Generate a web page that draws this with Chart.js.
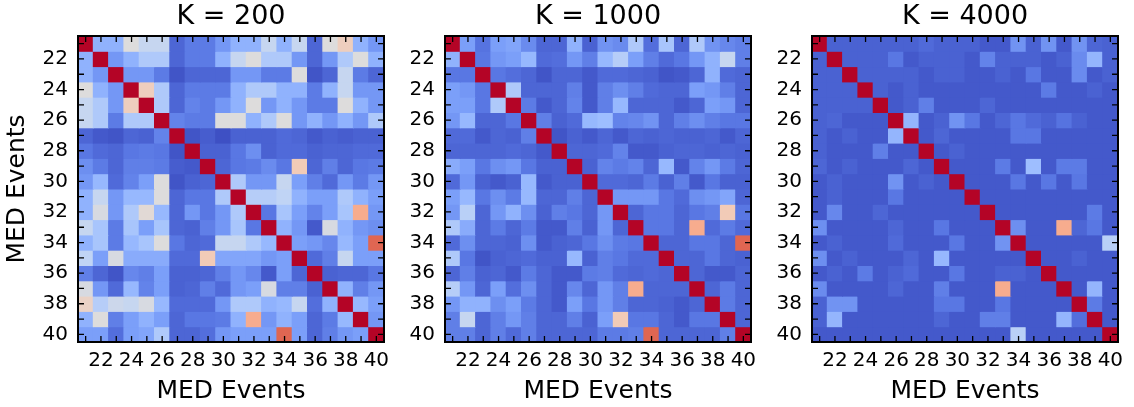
<!DOCTYPE html>
<html>
<head>
<meta charset="utf-8">
<script src="https://cdn.jsdelivr.net/npm/chart.js@4.4.1/dist/chart.umd.min.js"></script>
<style>
  html, body { margin: 0; padding: 0; background: #fff; overflow: hidden; }
  #wrap { position: relative; width: 1134px; height: 407px; }
  canvas { position: absolute; top: 0; }
</style>
</head>
<body>
<div id="wrap">
  <canvas id="c0" width="462" height="407" style="left:0px"></canvas>
  <canvas id="c1" width="462" height="407" style="left:367px"></canvas>
  <canvas id="c2" width="462" height="407" style="left:734px"></canvas>
</div>
<script>
// MED event ids on both axes
const events = [21,22,23,24,25,26,27,28,29,30,31,32,33,34,35,36,37,38,39,40];
const panelTitles = ['K = 200', 'K = 1000', 'K = 4000'];
const axisTitle = 'MED Events';

// similarity values, rows = y event, cols = x event
const corrK200 = [
  [1,.26,.26,.5,.42,.42,.06,.11,.11,.18,.26,.26,.42,.26,.42,.06,.5,.58,.26,.18],
  [.26,1,.18,.26,.35,.35,.06,.11,.11,.26,.42,.5,.35,.35,.18,.06,.18,.35,.5,.26],
  [.26,.18,1,.18,.18,.11,.02,.06,.06,.06,.18,.18,.11,.11,.5,.02,.06,.42,.11,.06],
  [.5,.26,.18,1,.58,.35,.06,.11,.11,.11,.26,.35,.35,.26,.26,.11,.26,.42,.18,.18],
  [.42,.35,.18,.58,1,.35,.06,.13,.11,.18,.26,.5,.18,.26,.18,.11,.11,.5,.26,.18],
  [.42,.35,.11,.35,.35,1,.13,.11,.11,.5,.5,.26,.35,.5,.18,.26,.18,.26,.18,.35],
  [.06,.03,.02,.06,.05,.13,1,.02,.04,.01,.05,.05,.05,.07,.06,.03,.05,.04,.05,.05],
  [.1,.07,.06,.1,.11,.1,.02,1,.05,.05,.1,.16,.05,.07,.07,.05,.06,.06,.07,.07],
  [.16,.11,.06,.12,.12,.11,.04,.03,1,.06,.1,.11,.15,.1,.6,.06,.12,.06,.1,.11],
  [.18,.28,.07,.13,.2,.5,.02,.05,.06,1,.35,.18,.18,.42,.2,.12,.07,.18,.11,.18],
  [.26,.42,.18,.28,.28,.5,.06,.1,.1,.35,1,.37,.37,.4,.26,.2,.2,.35,.26,.2],
  [.26,.48,.18,.35,.52,.28,.06,.18,.1,.18,.35,1,.1,.33,.2,.13,.2,.33,.7,.18],
  [.42,.33,.11,.33,.2,.33,.06,.05,.12,.18,.33,.1,1,.26,.18,.03,.48,.26,.18,.16],
  [.26,.33,.11,.28,.33,.5,.1,.06,.07,.42,.42,.35,.28,1,.2,.18,.14,.28,.2,.86],
  [.4,.2,.48,.24,.24,.24,.07,.07,.6,.22,.22,.22,.18,.2,1,.07,.12,.42,.2,.2],
  [.12,.06,.02,.14,.12,.2,.05,.05,.06,.12,.18,.14,.03,.2,.06,1,.05,.06,.06,.1],
  [.48,.18,.07,.28,.13,.2,.05,.06,.12,.07,.18,.2,.48,.12,.12,.05,1,.26,.12,.18],
  [.56,.37,.44,.42,.48,.28,.07,.07,.07,.18,.35,.35,.26,.28,.42,.08,.26,1,.28,.2],
  [.26,.5,.12,.2,.26,.2,.06,.1,.1,.11,.26,.7,.18,.26,.2,.06,.11,.28,1,.18],
  [.2,.2,.08,.2,.22,.35,.06,.06,.08,.18,.2,.2,.2,.86,.2,.06,.12,.18,.2,1]
];

const corrK1000 = [
  [1,.2,.09,.2,.22,.15,.06,.06,.26,.05,.17,.15,.35,.08,.33,.06,.35,.17,.14,.12],
  [.26,1,.1,.18,.2,.28,.07,.08,.18,.12,.28,.37,.2,.12,.07,.1,.18,.26,.42,.12],
  [.1,.1,1,.1,.08,.06,.02,.06,.06,.03,.07,.07,.06,.05,.02,.03,.06,.26,.07,.06],
  [.2,.18,.1,1,.35,.06,.06,.06,.12,.03,.12,.16,.12,.07,.06,.06,.2,.18,.12,.06],
  [.2,.2,.1,.35,1,.11,.03,.06,.13,.03,.12,.28,.06,.06,.06,.03,.06,.2,.18,.06],
  [.18,.28,.06,.06,.1,1,.12,.05,.07,.28,.3,.13,.14,.17,.06,.12,.16,.12,.1,.1],
  [.07,.07,.03,.06,.05,.12,1,.02,.05,.03,.06,.03,.06,.05,.06,.05,.05,.06,.03,.06],
  [.06,.06,.06,.06,.07,.06,.03,1,.06,.06,.07,.13,.03,.03,.05,.06,.06,.05,.06,.05],
  [.24,.2,.1,.16,.18,.1,.05,.05,1,.05,.13,.11,.13,.06,.28,.03,.13,.18,.11,.06],
  [.07,.18,.05,.03,.05,.28,.03,.05,.05,1,.07,.07,.06,.11,.05,.12,.03,.1,.05,.05],
  [.2,.28,.1,.16,.11,.28,.06,.06,.12,.06,1,.18,.18,.18,.1,.07,.16,.18,.22,.06],
  [.18,.38,.06,.18,.26,.16,.05,.12,.1,.06,.18,1,.06,.1,.1,.06,.1,.12,.6,.1],
  [.35,.24,.06,.11,.06,.11,.03,.03,.12,.05,.18,.06,1,.1,.1,.06,.7,.07,.11,.07],
  [.07,.16,.06,.06,.05,.16,.03,.05,.06,.1,.16,.11,.1,1,.06,.06,.1,.1,.06,.86],
  [.35,.1,.02,.05,.06,.07,.05,.05,.28,.05,.12,.1,.07,.07,1,.06,.06,.1,.06,.05],
  [.06,.12,.05,.06,.03,.11,.06,.03,.03,.11,.12,.07,.06,.07,.06,1,.06,.03,.03,.06],
  [.37,.18,.06,.2,.08,.16,.06,.03,.14,.06,.18,.12,.7,.06,.06,.06,1,.06,.11,.06],
  [.18,.26,.26,.16,.2,.11,.06,.03,.2,.1,.18,.12,.06,.06,.05,.03,.06,1,.11,.06],
  [.12,.42,.06,.12,.18,.12,.06,.06,.12,.05,.2,.6,.1,.1,.06,.03,.1,.1,1,.06],
  [.12,.12,.06,.12,.07,.12,.06,.06,.06,.06,.11,.11,.12,.86,.06,.06,.06,.06,.12,1]
];

const corrK4000 = [
  [1,.05,.05,.05,.05,.05,.05,.07,.05,.05,.05,.03,.03,.17,.05,.17,.03,.17,.06,.05],
  [.05,1,.05,.05,.05,.1,.03,.05,.05,.05,.03,.13,.05,.05,.05,.03,.05,.15,.27,.05],
  [.05,.05,1,.05,.05,.05,.05,.03,.05,.05,.03,.03,.05,.03,.1,.03,.03,.15,.03,.05],
  [.05,.05,.05,1,.05,.03,.05,.03,.03,.03,.03,.03,.03,.03,.03,.11,.03,.03,.05,.03],
  [.05,.05,.05,.05,1,.03,.05,.12,.03,.03,.03,.06,.03,.03,.03,.03,.03,.03,.03,.03],
  [.05,.06,.03,.03,.03,1,.27,.03,.05,.17,.1,.03,.06,.1,.07,.05,.09,.05,.03,.03],
  [.05,.03,.05,.03,.03,.27,1,.03,.06,.03,.03,.03,.03,.1,.1,.03,.03,.03,.03,.03],
  [.05,.03,.03,.03,.12,.03,.03,1,.03,.05,.03,.03,.03,.03,.03,.03,.03,.03,.03,.03],
  [.06,.03,.05,.03,.03,.03,.06,.03,1,.03,.03,.03,.11,.03,.3,.03,.11,.11,.03,.03],
  [.03,.05,.03,.03,.03,.17,.03,.05,.03,1,.03,.03,.03,.1,.03,.1,.03,.1,.03,.03],
  [.03,.05,.03,.03,.03,.1,.03,.03,.03,.03,1,.03,.03,.03,.03,.03,.03,.03,.03,.03],
  [.03,.14,.03,.03,.06,.03,.03,.03,.03,.03,.03,1,.03,.03,.03,.03,.03,.03,.11,.03],
  [.16,.03,.03,.03,.03,.06,.03,.03,.1,.03,.03,.03,1,.16,.03,.03,.7,.06,.1,.03],
  [.03,.05,.03,.03,.03,.07,.03,.03,.03,.1,.03,.03,.17,1,.03,.03,.03,.03,.03,.38],
  [.16,.03,.05,.03,.03,.03,.06,.03,.28,.03,.03,.03,.03,.03,1,.03,.03,.05,.03,.03],
  [.03,.05,.03,.11,.03,.05,.07,.03,.03,.1,.03,.03,.05,.05,.03,1,.03,.03,.03,.03],
  [.15,.03,.03,.03,.03,.06,.03,.03,.12,.03,.03,.03,.7,.03,.03,.03,1,.03,.27,.03],
  [.05,.17,.17,.03,.03,.03,.03,.03,.1,.1,.03,.03,.1,.03,.03,.03,.03,1,.11,.03],
  [.05,.27,.03,.03,.03,.03,.03,.03,.06,.03,.03,.12,.12,.03,.03,.03,.27,.08,1,.03],
  [.03,.03,.03,.03,.03,.03,.03,.03,.03,.03,.03,.03,.03,.38,.03,.03,.03,.03,.03,1]
];

// matplotlib coolwarm, sampled every 0.1
const coolwarmStops = [
  [59,76,192],[89,119,227],[123,159,249],[158,190,255],[192,212,245],[221,220,220],
  [242,203,183],[247,172,142],[238,132,104],[214,82,68],[180,4,38]
];
function coolwarm(v) {
  const t = Math.max(0, Math.min(1, v)) * 10;
  const i = Math.min(9, Math.floor(t));
  const f = t - i;
  const a = coolwarmStops[i], b = coolwarmStops[i + 1];
  const c = [0, 1, 2].map(k => Math.round(a[k] + (b[k] - a[k]) * f));
  return 'rgb(' + c.join(',') + ')';
}

Chart.defaults.font.family = "'DejaVu Sans', sans-serif";
Chart.defaults.color = '#000';

// matplotlib-ish frame: black box + inward ticks on all four sides
const frameTicks = {
  id: 'frameTicks',
  afterDatasetsDraw(chart) {
    const { ctx, chartArea: a, scales: { x, y } } = chart;
    const len = 6;
    ctx.save();
    ctx.strokeStyle = '#000';
    ctx.lineWidth = 1.3;
    ctx.beginPath();
    events.forEach((ev, i) => {
      const px = x.getPixelForValue(i);
      ctx.moveTo(px, a.bottom); ctx.lineTo(px, a.bottom - len);
      ctx.moveTo(px, a.top); ctx.lineTo(px, a.top + len);
      const py = y.getPixelForValue(ev);
      ctx.moveTo(a.left, py); ctx.lineTo(a.left + len, py);
      ctx.moveTo(a.right, py); ctx.lineTo(a.right - len, py);
    });
    ctx.stroke();
    ctx.lineWidth = 2;
    ctx.strokeRect(a.left, a.top, a.right - a.left, a.bottom - a.top);
    ctx.restore();
  }
};

function makePanel(id, title, matrix, showYTitle) {
  const datasets = matrix.map((row, r) => ({
    data: events.map(() => [events[r] - 0.5, events[r] + 0.5]),
    backgroundColor: row.map(coolwarm),
    borderWidth: 0,
    inflateAmount: 0.5,
    grouped: false,
    categoryPercentage: 1,
    barPercentage: 1
  }));

  return new Chart(document.getElementById(id), {
    type: 'bar',
    data: { labels: events.map(String), datasets: datasets },
    options: {
      responsive: false,
      animation: false,
      events: [],
      layout: { padding: { top: 0, right: 78, bottom: 0, left: 0 } },
      plugins: {
        legend: { display: false },
        tooltip: { enabled: false }
      },
      scales: {
        x: {
          grid: { display: false, drawTicks: false },
          border: { display: false },
          ticks: {
            autoSkip: false, maxRotation: 0, padding: 7,
            font: { size: 20 },
            callback: (v, i) => (events[i] % 2 === 0 ? String(events[i]) : '')
          },
          title: { display: true, text: axisTitle, font: { size: 25 }, padding: { top: 0, bottom: 1 } },
          afterFit: s => { s.height = 65; }
        },
        top: {
          type: 'category',
          position: 'top',
          grid: { display: false, drawTicks: false },
          border: { display: false },
          ticks: { display: false },
          title: { display: true, text: title, font: { size: 27 }, padding: { top: 1, bottom: 0 } },
          afterFit: s => { s.height = 36; }
        },
        y: {
          min: 20.5, max: 40.5, reverse: true,
          grid: { display: false, drawTicks: false },
          border: { display: false },
          ticks: { padding: 10, font: { size: 20 } },
          afterBuildTicks: s => { s.ticks = events.filter(e => e % 2 === 0).map(v => ({ value: v })); },
          title: { display: showYTitle, text: axisTitle, font: { size: 25 }, padding: { top: 2.5, bottom: 0 } },
          afterFit: s => { s.width = 78; }
        }
      }
    },
    plugins: [frameTicks]
  });
}

makePanel('c0', panelTitles[0], corrK200, true);
makePanel('c1', panelTitles[1], corrK1000, false);
makePanel('c2', panelTitles[2], corrK4000, false);
</script>
</body>
</html>
